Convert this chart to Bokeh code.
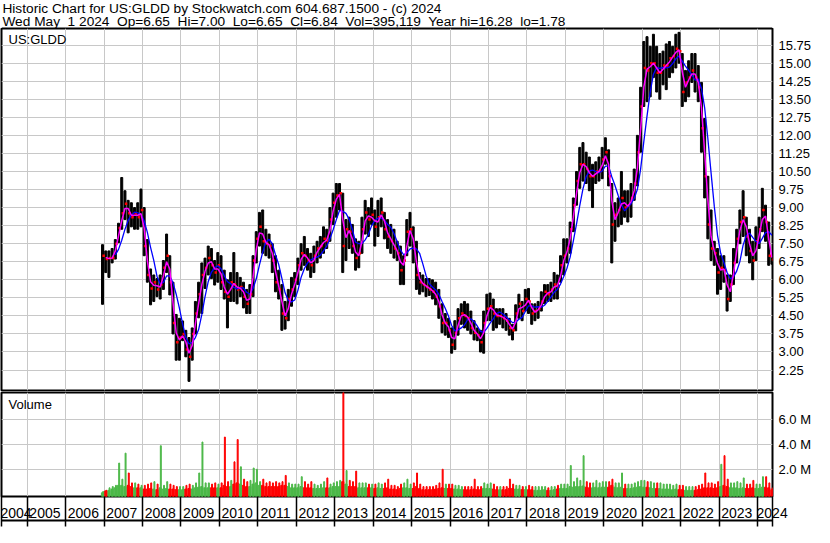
import pandas as pd
from bokeh.plotting import figure
from bokeh.layouts import column
from bokeh.models import (Range1d, FixedTicker, Grid, NumeralTickFormatter, CustomJSTickFormatter,
                          LinearAxis)
from bokeh.core.properties import value
from bokeh.embed import file_html
from bokeh.resources import INLINE

# ---------------- data (monthly) ----------------
first_month = "2006-12"

price_high = [
    7.46,
    7.2, 7.2, 7.3, 7.67, 8.35, 10.25, 9.7, 9.3, 9.2, 9.0, 9.2, 9.77,          # 2007
    9.0, 7.67, 6.45, 6.2, 6.05, 6.2, 6.8, 7.9, 7.0, 5.9, 4.56, 4.4,          # 2008
    4.29, 3.9, 3.6, 4.0, 5.1, 5.9, 6.7, 6.9, 7.4, 7.3, 6.8, 7.13,            # 2009
    7.0, 6.4, 6.0, 6.3, 7.13, 6.3, 6.1, 5.9, 5.6, 5.8, 7.0, 8.0,             # 2010
    8.8, 8.9, 8.1, 7.9, 7.5, 7.0, 6.4, 5.8, 5.1, 5.6, 6.1, 6.3,              # 2011
    6.9, 7.5, 7.8, 7.3, 7.1, 7.4, 7.6, 7.8, 8.2, 8.1, 9.0, 9.6,              # 2012
    10.0, 10.0, 9.6, 8.5, 8.6, 8.3, 7.7, 7.6, 8.6, 9.3, 9.0, 9.4,            # 2013
    8.9, 9.3, 9.4, 8.8, 8.5, 8.3, 8.1, 7.6, 7.4, 7.0, 8.5, 8.8,              # 2014
    8.2, 7.6, 6.3, 6.2, 6.05, 6.05, 6.0, 5.9, 5.6, 5.0, 4.6, 4.4,            # 2015
    4.0, 4.3, 4.8, 5.0, 5.1, 5.0, 4.7, 4.3, 4.0, 3.9, 4.7, 5.4,              # 2016
    5.45, 5.2, 4.8, 4.8, 4.8, 4.6, 4.4, 4.15, 4.96, 5.4, 5.1, 5.6,           # 2017
    5.64, 5.0, 5.0, 5.1, 5.5, 5.8, 5.8, 5.9, 6.3, 6.2, 7.0, 7.7,             # 2018
    7.7, 8.4, 9.4, 10.5, 11.5, 11.7, 11.3, 11.1, 10.8, 10.9, 11.1, 11.5,     # 2019
    11.9, 11.4, 10.0, 9.2, 9.4, 10.5, 9.7, 9.7, 10.0, 10.6, 12.0, 14.0,      # 2020
    15.9, 16.1, 15.7, 16.2, 15.7, 15.4, 15.5, 15.8, 15.9, 15.7, 16.2, 16.28, # 2021
    15.4, 14.7, 15.1, 15.4, 15.4, 14.9, 14.2, 12.7, 10.3, 8.9, 7.6, 7.3,     # 2022
    7.0, 7.0, 6.2, 6.2, 7.3, 8.1, 8.9, 9.7, 8.6, 8.1, 7.6, 8.2,              # 2023
    8.6, 9.8, 9.1, 8.4, 7.0,                                                 # 2024
]
price_low = [
    4.98,
    6.3, 6.1, 6.7, 6.86, 7.54, 8.1, 8.5, 7.95, 8.2, 8.1, 8.1, 8.2,
    7.0, 5.9, 4.96, 5.1, 5.3, 5.2, 5.6, 6.3, 5.37, 3.75, 2.66, 2.66,
    3.47, 2.8, 1.78, 2.66, 3.75, 4.42, 4.6, 5.64, 6.2, 6.05, 5.78, 5.9,
    5.6, 5.2, 4.0, 5.1, 5.1, 5.0, 5.3, 4.83, 4.6, 4.6, 5.3, 6.7,
    7.4, 7.1, 7.0, 6.9, 6.3, 5.5, 5.2, 3.9, 3.95, 4.3, 4.9, 5.3,
    5.8, 6.4, 6.6, 6.4, 6.1, 6.3, 6.7, 6.9, 7.1, 7.3, 7.6, 8.3,
    8.6, 8.9, 6.3, 6.8, 7.3, 7.1, 6.4, 6.5, 7.1, 7.9, 7.8, 8.3,
    7.4, 7.8, 8.2, 7.7, 7.3, 7.1, 6.9, 6.8, 5.8, 5.8, 7.0, 7.4,
    6.7, 5.6, 5.4, 5.5, 5.3, 5.35, 5.2, 4.96, 4.4, 3.8, 3.7, 3.6,
    2.95, 3.1, 3.7, 4.15, 4.0, 3.9, 3.75, 3.5, 3.47, 3.0, 2.95, 4.3,
    4.3, 3.9, 4.0, 4.15, 4.0, 3.9, 3.7, 3.5, 3.88, 4.4, 4.3, 4.7,
    4.6, 4.15, 4.3, 4.4, 4.7, 5.0, 5.1, 5.1, 5.2, 5.2, 5.9, 6.2,
    6.7, 7.1, 8.0, 9.1, 9.8, 10.1, 10.0, 9.7, 9.0, 10.0, 10.1, 10.2,
    10.8, 9.9, 6.7, 7.6, 8.2, 8.3, 8.6, 8.4, 8.6, 9.3, 9.9, 11.3,
    13.2, 13.4, 13.6, 14.4, 13.8, 13.5, 14.1, 13.9, 14.4, 14.6, 14.8, 15.0,
    13.2, 13.4, 13.6, 14.2, 13.8, 13.4, 11.3, 9.4, 7.7, 6.8, 6.6, 5.4,
    5.6, 5.9, 4.7, 5.1, 5.8, 6.7, 7.5, 7.8, 7.0, 6.7, 6.0, 6.8,
    7.3, 8.0, 7.6, 6.6, 6.65,
]
price_close = [
    7.0,
    6.86, 6.9, 6.9, 7.5, 8.15, 8.76, 9.16, 8.76, 8.6, 8.76, 8.6, 8.9,
    7.4, 6.2, 5.64, 5.9, 5.6, 5.8, 6.5, 7.0, 5.9, 4.2, 3.4, 3.6,
    3.75, 3.1, 2.8, 3.75, 4.6, 5.4, 6.2, 6.5, 6.9, 6.6, 6.3, 6.6,
    5.9, 5.5, 5.3, 5.9, 5.8, 5.6, 5.7, 5.3, 5.0, 5.4, 6.8, 7.7,
    8.2, 7.6, 7.5, 7.4, 6.8, 5.9, 5.6, 4.6, 4.4, 5.2, 5.6, 6.0,
    6.6, 7.1, 7.0, 6.8, 6.6, 7.0, 7.3, 7.4, 7.7, 7.6, 8.5, 9.2,
    9.5, 9.6, 7.4, 8.1, 8.0, 7.4, 6.9, 7.1, 8.1, 8.8, 8.5, 8.7,
    8.2, 8.6, 8.8, 8.1, 7.8, 7.6, 7.3, 7.1, 6.4, 6.8, 8.0, 8.1,
    7.3, 6.2, 5.9, 5.8, 5.7, 5.6, 5.5, 5.3, 4.9, 4.2, 4.2, 3.9,
    3.3, 3.8, 4.4, 4.6, 4.5, 4.4, 4.0, 3.8, 3.7, 3.4, 4.2, 4.8,
    4.9, 4.6, 4.5, 4.5, 4.4, 4.3, 4.0, 3.9, 4.6, 5.0, 4.7, 5.2,
    5.1, 4.6, 4.7, 4.8, 5.1, 5.5, 5.4, 5.6, 5.8, 5.7, 6.6, 7.0,
    7.3, 8.1, 9.1, 10.1, 10.8, 10.8, 10.6, 10.3, 10.3, 10.5, 10.5, 11.0,
    11.3, 10.3, 8.3, 8.7, 8.9, 9.4, 9.0, 9.1, 9.4, 10.0, 11.3, 13.2,
    14.8, 14.7, 15.0, 15.0, 14.6, 14.6, 14.9, 14.9, 15.2, 15.3, 15.6, 15.5,
    13.8, 14.2, 14.4, 14.7, 14.4, 14.0, 12.3, 10.3, 8.3, 7.3, 7.1, 6.3,
    6.5, 6.4, 5.2, 5.8, 6.7, 7.7, 8.4, 8.6, 7.8, 7.2, 6.8, 7.6,
    8.1, 8.9, 8.4, 7.0, 6.84,
]
# volume in millions of shares: typical daily level and tallest day of each month
volume_typical = [
    0.1,
    0.25, 0.3, 0.4, 0.5, 0.7, 0.7, 0.6, 0.7, 0.6, 0.5, 0.5, 0.5,
    0.4, 0.4, 0.45, 0.4, 0.35, 0.5, 0.4, 0.45, 0.4, 0.4, 0.35, 0.35,
    0.35, 0.4, 0.45, 0.4, 0.5, 0.55, 0.6, 0.5, 0.5, 0.5, 0.5, 0.5,
    0.5, 0.7, 0.6, 0.6, 0.8, 0.9, 0.8, 0.7, 0.6, 0.6, 0.8, 0.9,
    0.7, 0.7, 0.6, 0.6, 0.6, 0.6, 0.6, 0.7, 0.7, 0.6, 0.5, 0.5,
    0.5, 0.6, 0.5, 0.5, 0.5, 0.45, 0.45, 0.45, 0.5, 0.5, 0.5, 0.6,
    0.6, 0.6, 1.0, 0.8, 0.6, 0.6, 0.6, 0.5, 0.5, 0.5, 0.5, 0.5,
    0.45, 0.5, 0.45, 0.45, 0.5, 0.4, 0.4, 0.35, 0.45, 0.5, 0.5, 0.45,
    0.45, 0.6, 0.45, 0.35, 0.35, 0.35, 0.35, 0.4, 0.45, 0.5, 0.45, 0.45,
    0.45, 0.4, 0.4, 0.35, 0.35, 0.35, 0.35, 0.4, 0.35, 0.35, 0.45, 0.45,
    0.45, 0.4, 0.35, 0.35, 0.35, 0.35, 0.45, 0.45, 0.4, 0.4, 0.35, 0.35,
    0.35, 0.35, 0.3, 0.3, 0.3, 0.35, 0.3, 0.3, 0.35, 0.4, 0.45, 0.45,
    0.45, 0.6, 0.55, 0.6, 0.6, 0.65, 0.55, 0.5, 0.5, 0.55, 0.5, 0.55,
    0.55, 0.55, 0.7, 0.55, 0.5, 0.55, 0.45, 0.45, 0.45, 0.5, 0.55, 0.6,
    0.55, 0.55, 0.5, 0.45, 0.45, 0.45, 0.4, 0.4, 0.4, 0.35, 0.4, 0.35,
    0.35, 0.3, 0.3, 0.3, 0.3, 0.35, 0.4, 0.5, 0.5, 0.5, 0.45, 0.5,
    0.6, 0.7, 0.6, 0.5, 0.5, 0.5, 0.45, 0.5, 0.45, 0.45, 0.5, 0.45,
    0.45, 0.55, 0.55, 0.5, 0.35,
]
volume_peak = [
    0.2,
    0.3, 0.5, 0.6, 0.7, 2.5, 1.2, 3.3, 1.7, 0.9, 0.9, 0.8, 0.7,
    0.7, 0.8, 0.9, 1.0, 0.8, 3.9, 0.7, 1.0, 0.8, 0.7, 0.6, 0.6,
    0.6, 0.7, 0.8, 0.7, 0.9, 1.7, 4.2, 0.9, 0.9, 0.8, 0.9, 0.8,
    0.9, 4.6, 1.0, 1.1, 2.6, 4.4, 2.2, 1.2, 1.0, 1.1, 2.1, 2.0,
    1.0, 1.2, 0.9, 1.0, 0.9, 1.0, 0.9, 1.0, 1.5, 0.9, 0.8, 0.8,
    0.8, 1.4, 1.0, 0.8, 1.0, 0.8, 0.7, 0.8, 1.0, 1.3, 0.8, 0.9,
    1.0, 1.1, 9.5, 1.9, 1.1, 1.0, 1.85, 0.9, 0.9, 0.9, 0.8, 0.8,
    0.8, 0.9, 0.8, 0.9, 1.2, 0.7, 0.7, 0.6, 0.8, 0.9, 1.2, 0.8,
    0.9, 1.7, 0.8, 0.6, 0.6, 0.6, 0.6, 0.7, 0.9, 2.0, 0.8, 0.8,
    0.8, 0.7, 0.7, 0.6, 0.6, 0.6, 0.6, 1.2, 0.6, 0.6, 0.9, 0.8,
    0.9, 0.8, 0.6, 0.6, 0.6, 0.6, 1.2, 0.8, 0.7, 0.7, 0.6, 0.6,
    0.7, 0.6, 0.6, 0.6, 0.6, 0.6, 0.5, 0.6, 0.6, 0.7, 0.8, 0.8,
    0.8, 2.3, 1.0, 1.3, 1.1, 3.1, 1.0, 0.9, 0.9, 1.1, 0.9, 1.0,
    1.0, 1.0, 1.2, 0.9, 0.9, 1.7, 0.8, 0.8, 0.8, 0.9, 1.0, 1.1,
    1.1, 1.0, 1.0, 0.9, 0.9, 0.9, 0.8, 0.8, 0.8, 0.7, 0.8, 0.7,
    0.7, 0.6, 0.6, 0.6, 0.6, 0.7, 0.8, 1.7, 0.9, 0.9, 0.8, 1.0,
    2.4, 3.1, 1.2, 0.9, 0.9, 1.0, 0.9, 1.3, 0.8, 0.8, 1.1, 0.8,
    0.8, 1.4, 1.4, 0.9, 0.5,
]

price_ticks = [2.25, 3.00, 3.75, 4.50, 5.25, 6.00, 6.75, 7.50, 8.25, 9.00,
               9.75, 10.50, 11.25, 12.00, 12.75, 13.50, 14.25, 15.00, 15.75]
volume_ticks = [2, 4, 6]
year_labels = list(range(2004, 2025))

GAP = "\u00a0 "
header_line1 = "Historic Chart for US:GLDD by Stockwatch.com 604.687.1500 - (c) 2024"
header_line2 = GAP.join(["Wed May\u00a0 1 2024", "Op=6.65", "Hi=7.00", "Lo=6.65", "Cl=6.84",
                         "Vol=395,119", "Year hi=16.28", "lo=1.78"])
symbol_label = "US:GLDD"
volume_label = "Volume"

# ---------------- derived ----------------
n = len(price_close)
periods = pd.period_range(first_month, periods=n, freq="M")
x_mid = [p.year + (p.month - 0.5) / 12 for p in periods]
closes = pd.Series(price_close, dtype=float)
ma_short = closes.rolling(2).mean()
ma_long = closes.rolling(5).mean()
prev = closes.shift(1).fillna(closes.iloc[0])
GREEN = "#4CB848"
RED = "#FF0000"
bar_colors = [GREEN if c >= p_ else RED for c, p_ in zip(closes, prev)]

# ---------------- layout ----------------
W = 814
RIGHT = 40
GRID = "#C8C8C8"
FONT = "Liberation Sans"
X0, X1 = 2004.33, 2024.39
xr = Range1d(X0, X1)
month = 1 / 12
STRIP = 31


def style(p):
    p.outline_line_color = "black"
    p.outline_line_width = 2
    p.outline_line_alpha = 1
    p.background_fill_color = "white"
    p.border_fill_color = "white"
    p.min_border_left = 1
    p.min_border_right = RIGHT


def right_axis(p, ticks):
    ax = p.yaxis[0]
    ax.ticker = FixedTicker(ticks=ticks)
    ax.axis_line_color = None
    ax.major_tick_line_color = None
    ax.minor_tick_line_color = None
    ax.major_tick_in = 0
    ax.major_tick_out = 0
    ax.minor_tick_out = 0
    ax.major_label_standoff = 6
    ax.major_label_text_font = FONT
    ax.major_label_text_font_size = "13px"
    ax.major_label_text_color = "black"
    p.ygrid.grid_line_color = GRID
    p.add_layout(Grid(dimension=0, ticker=FixedTicker(ticks=year_labels), grid_line_color=GRID))


# header
HH = 28
hdr = figure(width=W, height=HH, x_range=Range1d(0, W), y_range=Range1d(0, HH),
             x_axis_type=None, y_axis_type=None, toolbar_location=None, output_backend="svg",
             min_border=0)
hdr.outline_line_color = None
hdr.grid.visible = False
hdr.border_fill_color = "white"
hdr.text(x=[1, 1], y=[HH - 7.5, HH - 20.5], text=[header_line1, header_line2], text_baseline="middle",
         text_font=value(FONT), text_font_size=value("13.7px"), text_color="black")
hdr.segment(x0=[0], y0=[0.5], x1=[W], y1=[0.5], line_color="black", line_width=1)

# price panel
pp = figure(width=W, height=364, x_range=xr, y_range=Range1d(1.40, 16.44),
            x_axis_type=None, y_axis_location="right", toolbar_location=None,
            output_backend="svg", min_border_top=0, min_border_bottom=2)
style(pp)
right_axis(pp, price_ticks)
pp.yaxis.formatter = NumeralTickFormatter(format="0.00")
pp.vbar(x=x_mid, top=price_high, bottom=price_low, width=0.62 * month, color="black")
pp.scatter(x=[x + 0.36 * month for x in x_mid], y=price_close, marker="square", size=2.5,
           color=RED, line_color=None)
pp.line(x=x_mid, y=ma_long, line_color="#0000FF", line_width=1.3)
pp.line(x=x_mid, y=ma_short, line_color="#FF00FF", line_width=1.5)
pp.text(x=[X0], y=[16.44], text=[symbol_label], x_offset=7, y_offset=3, text_baseline="top",
        text_font=value(FONT), text_font_size=value("13px"), text_color="black")

# volume panel with the year strip as its bottom axis
vp = figure(width=W, height=104 + STRIP, x_range=xr, y_range=Range1d(-0.2, 8.2),
            x_axis_type=None, y_axis_location="right", toolbar_location=None,
            output_backend="svg", min_border_top=0, min_border_bottom=STRIP)
style(vp)
right_axis(vp, volume_ticks)
vp.yaxis.formatter = CustomJSTickFormatter(code="return tick.toFixed(1) + ' M';")
vp.vbar(x=x_mid, top=volume_typical, bottom=-0.2, width=0.7 * month, color=bar_colors)
vp.vbar(x=[x + 0.2 * month for x in x_mid], top=volume_peak, bottom=-0.2, width=0.3 * month,
        color=bar_colors)
vp.text(x=[X0], y=[8.2], text=[volume_label], x_offset=7, y_offset=4, text_baseline="top",
        text_font=value(FONT), text_font_size=value("13px"), text_color="black")

# year labels sit between the year boundaries; boundaries drawn as long minor ticks
label_pos = []
for y in year_labels:
    if y < X0:
        label_pos.append(2004.55)
    elif y == year_labels[-1]:
        label_pos.append(min(y + 0.38, X1 - 0.005))
    else:
        label_pos.append(y + 0.46)
sep_pos = [X0 + 1e-4] + [y for y in year_labels if X0 < y < X1] + [X1 - 1e-4]
TICK = STRIP - 1
year_axis = LinearAxis(
    ticker=FixedTicker(ticks=label_pos, minor_ticks=sep_pos),
    formatter=CustomJSTickFormatter(code="return Math.floor(tick).toString();"),
    axis_line_color=None,
    major_tick_line_color=None, major_tick_in=0, major_tick_out=0,
    minor_tick_line_color="black", minor_tick_line_width=1.5, minor_tick_in=0,
    minor_tick_out=TICK,
    major_label_standoff=11 - TICK, major_label_text_font=FONT,
    major_label_text_font_size="14px", major_label_text_color="black",
)
vp.add_layout(year_axis, "below")
bottom_line = LinearAxis(
    ticker=FixedTicker(ticks=[]), axis_line_color="black", axis_line_width=2,
    major_tick_line_color=None, minor_tick_line_color=None, major_tick_out=0, minor_tick_out=0,
    major_label_text_font_size="0px",
)
vp.add_layout(bottom_line, "below")

layout = column(hdr, pp, vp, spacing=0)
open("out.html", "w").write(file_html(layout, INLINE))
